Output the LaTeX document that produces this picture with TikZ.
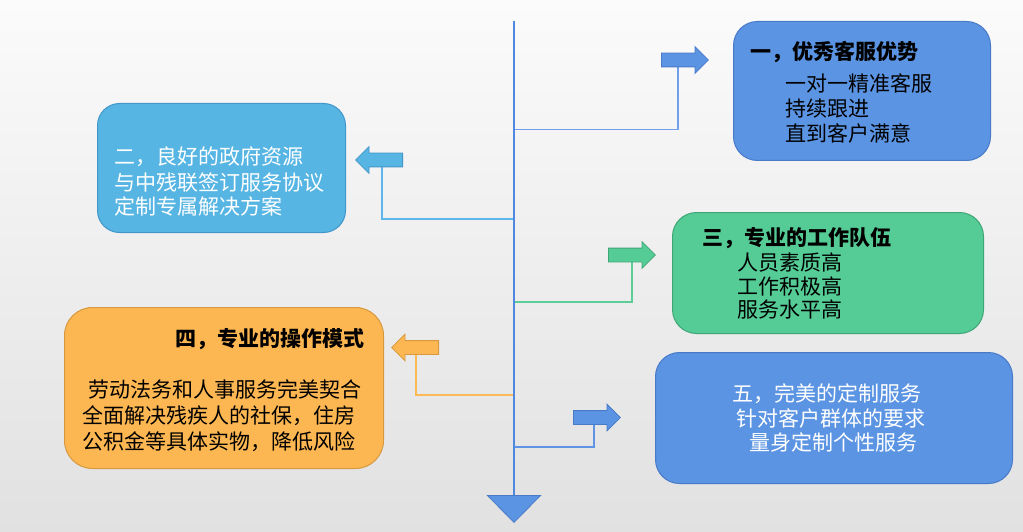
\documentclass[tikz,border=0pt]{standalone}
\usepackage{fontspec}
\setmainfont{Noto Sans CJK SC}
\usetikzlibrary{shapes.arrows,arrows.meta,calc}
\pgfdeclarelayer{bg}\pgfdeclarelayer{conn}\pgfsetlayers{bg,conn,main}
\definecolor{bgtop}{RGB}{251,251,251}
\definecolor{bgbot}{RGB}{225,225,225}
\definecolor{bluefill}{RGB}{91,148,226}
\definecolor{blueedge}{RGB}{72,122,200}
\definecolor{skyfill}{RGB}{87,181,227}
\definecolor{skyedge}{RGB}{66,150,200}
\definecolor{greenfill}{RGB}{85,204,150}
\definecolor{greenedge}{RGB}{62,165,117}
\definecolor{orangefill}{RGB}{253,183,82}
\definecolor{orangeedge}{RGB}{215,152,62}
\definecolor{lineone}{RGB}{112,160,235}
\definecolor{linetwo}{RGB}{92,184,235}
\definecolor{linethree}{RGB}{92,205,150}
\definecolor{linefour}{RGB}{253,185,85}
\definecolor{linefive}{RGB}{95,148,228}
\definecolor{spinecol}{RGB}{80,135,225}
\begin{document}
\begin{tikzpicture}[x=1pt,y=-1pt,
  font=\fontsize{21pt}{25pt}\selectfont,
  box/.style={draw, line width=1pt, rounded corners=24pt, anchor=north west, inner sep=0pt},
  barrow/.style={single arrow, draw, line width=0.8pt, inner sep=0pt, text height=13pt, text depth=0pt,
     minimum height=47pt, single arrow head extend=6.5pt, anchor=tail},
  txt/.style={anchor=base west, inner sep=0pt},
  ctxt/.style={anchor=base, inner sep=0pt, text=white},
  connector/.style={line width=1.8pt},
  spine/.style={line width=2pt, draw=spinecol}
]
\useasboundingbox (0,0) rectangle (1023,532);
\begin{pgfonlayer}{bg}
\shade[top color=bgtop, bottom color=bgbot] (0,0) rectangle (1023,532);
\end{pgfonlayer}

% boxes
\node[box, fill=bluefill, draw=blueedge, minimum width=257pt, minimum height=139pt] (b1) at (733,21) {};
\node[box, fill=skyfill, draw=skyedge, minimum width=248pt, minimum height=129pt, rounded corners=22pt] (b2) at (97,103) {};
\node[box, fill=greenfill, draw=greenedge, minimum width=311pt, minimum height=121pt] (b3) at (672,212) {};
\node[box, fill=orangefill, draw=orangeedge, minimum width=319pt, minimum height=161pt, rounded corners=28pt] (b4) at (64,307) {};
\node[box, fill=bluefill, draw=blueedge, minimum width=357pt, minimum height=131pt] (b5) at (655,352) {};

% texts box 1
\node[txt] (t1a) at (750,59.5) {\bfseries 一，优秀客服优势};
\node[txt] (t1b) at (785,91.5) {一对一精准客服};
\node[txt] (t1c) at (785,116.5) {持续跟进};
\node[txt] (t1d) at (785,141.5) {直到客户满意};
% texts box 2
\node[txt, text=white] (t2a) at (114,164.5) {二，良好的政府资源};
\node[txt, text=white] (t2b) at (114,190.5) {与中残联签订服务协议};
\node[txt, text=white] (t2c) at (114,214.5) {定制专属解决方案};
% texts box 3
\node[txt] (t3a) at (702,245) {\bfseries 三，专业的工作队伍};
\node[txt] (t3b) at (737,270.5) {人员素质高};
\node[txt] (t3c) at (737,294) {工作积极高};
\node[txt] (t3d) at (737,317.5) {服务水平高};
% texts box 4
\node[anchor=base east, inner sep=0pt] (t4a) at (365,346.5) {\bfseries 四，专业的操作模式};
\node[txt] (t4b) at (88,397) {劳动法务和人事服务完美契合};
\node[txt] (t4c) at (82,423) {全面解决残疾人的社保，住房};
\node[txt] (t4d) at (82,449) {公积金等具体实物，降低风险};
% texts box 5
\node[ctxt] (t5a) at (827,401) {五，完美的定制服务};
\node[ctxt] (t5b) at (831,426.5) {针对客户群体的要求};
\node[ctxt] (t5c) at (833,450.5) {量身定制个性服务};

% block arrows
\node[barrow, fill=bluefill, draw=blueedge] (a1) at (661,60) {};
\node[barrow, fill=skyfill, draw=skyedge, shape border rotate=180] (a2) at (403,160) {};
\node[barrow, fill=greenfill, draw=greenedge] (a3) at (608,255) {};
\node[barrow, fill=orangefill, draw=orangeedge, shape border rotate=180] (a4) at (439,347.5) {};
\node[barrow, fill=bluefill, draw=blueedge] (a5) at (573,417.5) {};

% spine
\coordinate (top) at (514,21);
\coordinate (bot) at (514,523);
\coordinate (sp1) at (514,129.5);
\coordinate (sp2) at (514,219);
\coordinate (sp3) at (514,302);
\coordinate (sp4) at (514,395);
\coordinate (sp5) at (514,447);

\begin{pgfonlayer}{conn}
\draw[connector, draw=lineone] (sp1) -| ($(a1.tail)!0.36!(a1.tip)$);
\draw[connector, draw=linetwo] (sp2) -| ($(a2.tail)!0.43!(a2.tip)$);
\draw[connector, draw=linethree] (sp3) -| ($(a3.tail)!0.5!(a3.tip)$);
\draw[connector, draw=linefour] (sp4) -| ($(a4.tail)!0.48!(a4.tip)$);
\draw[connector, draw=linefive] (sp5) -| ($(a5.tail)!0.43!(a5.tip)$);
\end{pgfonlayer}

\draw[spine, -{Triangle[width=55pt,length=28pt,fill=bluefill,color=blueedge,line width=0.8pt]}] (top) -- (bot);
\end{tikzpicture}
\end{document}
